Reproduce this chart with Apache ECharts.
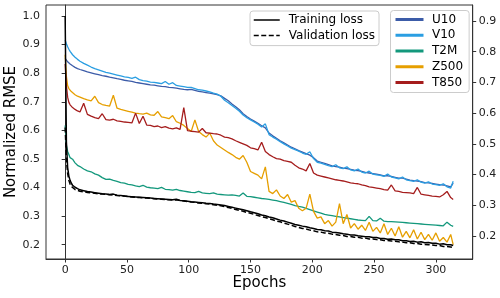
<!DOCTYPE html>
<html>
<head>
<meta charset="utf-8">
<script src="https://cdn.jsdelivr.net/npm/echarts@6/dist/echarts.min.js"></script>
<style>
html,body{margin:0;padding:0;background:#fff;}
#c{width:500px;height:298px;}
</style>
</head>
<body>
<div id="c"></div>
<script>
// ---- data ----
const epochs = [0,1,2,3,4,5,6,8,10,
12,15,18,21,24,27,30,33,36,39,
42,45,48,51,54,57,60,63,66,69,
72,75,78,81,84,87,90,93,96,99,
102,105,108,111,114,117,120,123,126,129,
132,135,138,141,144,147,150,153,156,159,
162,165,168,171,174,177,180,183,186,189,
192,195,198,201,204,207,210,213,216,219,
222,225,228,231,234,237,240,243,246,249,
252,255,258,261,264,267,270,273,276,279,
282,285,288,291,294,297,300,303,306,309,
312,314];

const trainingLoss = [1.0,0.56,0.47,0.44,0.425,0.415,0.408,0.401,0.396,
0.392,0.389,0.386,0.384,0.382,0.380,0.378,0.377,0.376,0.377,
0.373,0.372,0.370,0.369,0.368,0.367,0.366,0.365,0.364,0.363,
0.362,0.361,0.360,0.359,0.358,0.357,0.359,0.355,0.354,0.352,
0.350,0.349,0.348,0.347,0.345,0.344,0.342,0.341,0.339,0.337,
0.334,0.331,0.328,0.325,0.322,0.319,0.315,0.312,0.308,0.304,
0.301,0.297,0.294,0.290,0.286,0.283,0.279,0.275,0.271,0.268,
0.265,0.263,0.259,0.257,0.253,0.252,0.249,0.248,0.244,0.243,
0.241,0.238,0.237,0.234,0.234,0.231,0.230,0.228,0.228,0.225,
0.225,0.222,0.222,0.219,0.220,0.217,0.217,0.214,0.214,0.211,
0.212,0.209,0.210,0.207,0.208,0.205,0.205,0.202,0.203,0.200,
0.200,0.197];

const validationLoss = [0.61,0.50,0.45,0.425,0.412,0.404,0.398,0.393,0.390,
0.387,0.385,0.383,0.381,0.380,0.378,0.377,0.376,0.375,0.374,
0.372,0.371,0.370,0.368,0.367,0.366,0.365,0.364,0.363,0.362,
0.361,0.360,0.359,0.358,0.357,0.356,0.357,0.354,0.353,0.351,
0.349,0.348,0.346,0.345,0.343,0.342,0.340,0.338,0.336,0.333,
0.330,0.327,0.323,0.320,0.317,0.313,0.310,0.306,0.302,0.298,
0.295,0.291,0.287,0.283,0.280,0.276,0.272,0.268,0.264,0.260,
0.257,0.255,0.251,0.249,0.245,0.244,0.241,0.240,0.237,0.236,
0.233,0.232,0.229,0.229,0.226,0.226,0.223,0.223,0.220,0.220,
0.218,0.217,0.215,0.215,0.213,0.212,0.210,0.209,0.207,0.207,
0.204,0.204,0.202,0.201,0.200,0.199,0.197,0.197,0.194,0.194,
0.192,0.190];

const u10 = [0.778,0.772,0.767,0.763,0.760,0.757,0.754,0.749,0.745,
0.742,0.738,0.734,0.731,0.728,0.725,0.722,0.720,0.717,0.715,
0.712,0.710,0.707,0.705,0.703,0.700,0.698,0.696,0.694,0.692,
0.691,0.689,0.687,0.686,0.684,0.683,0.681,0.679,0.677,0.676,
0.677,0.674,0.671,0.669,0.667,0.665,0.663,0.660,0.656,0.648,
0.640,0.630,0.621,0.611,0.598,0.589,0.581,0.574,0.567,0.559,
0.552,0.535,0.526,0.518,0.510,0.503,0.496,0.489,0.484,0.478,
0.473,0.468,0.463,0.455,0.444,0.440,0.436,0.432,0.428,0.426,
0.424,0.421,0.419,0.417,0.414,0.413,0.410,0.407,0.405,0.403,
0.401,0.399,0.396,0.396,0.394,0.391,0.388,0.388,0.385,0.382,
0.380,0.379,0.377,0.374,0.373,0.371,0.369,0.367,0.366,0.363,
0.360,0.372];

const v10 = [0.838,0.826,0.816,0.808,0.801,0.795,0.790,0.782,0.775,
0.769,0.762,0.756,0.750,0.745,0.741,0.737,0.733,0.730,0.727,
0.724,0.721,0.718,0.716,0.713,0.717,0.709,0.706,0.704,0.701,
0.700,0.698,0.696,0.703,0.694,0.699,0.690,0.688,0.686,0.684,
0.684,0.680,0.676,0.675,0.672,0.669,0.665,0.662,0.655,0.642,
0.634,0.625,0.616,0.606,0.594,0.585,0.578,0.571,0.564,0.555,
0.565,0.530,0.522,0.515,0.507,0.500,0.493,0.486,0.481,0.476,
0.470,0.466,0.474,0.452,0.440,0.437,0.433,0.429,0.426,0.432,
0.422,0.419,0.425,0.415,0.412,0.418,0.408,0.405,0.411,0.401,
0.399,0.397,0.394,0.402,0.392,0.389,0.386,0.392,0.383,0.380,
0.378,0.383,0.375,0.372,0.376,0.369,0.367,0.365,0.370,0.360,
0.356,0.378];

const t2m = [0.560,0.495,0.475,0.465,0.455,0.458,0.450,0.438,0.430,
0.426,0.418,0.412,0.409,0.402,0.398,0.390,0.384,0.385,0.381,
0.378,0.374,0.372,0.368,0.366,0.363,0.361,0.365,0.359,0.357,
0.356,0.354,0.358,0.352,0.351,0.349,0.352,0.348,0.346,0.344,
0.342,0.341,0.345,0.340,0.339,0.338,0.340,0.336,0.335,0.334,
0.333,0.334,0.332,0.330,0.340,0.329,0.328,0.326,0.324,0.322,
0.321,0.319,0.317,0.315,0.312,0.309,0.306,0.303,0.299,0.296,
0.294,0.290,0.286,0.282,0.278,0.274,0.270,0.268,0.266,0.264,
0.262,0.260,0.258,0.256,0.254,0.252,0.251,0.250,0.264,0.250,
0.249,0.258,0.248,0.247,0.247,0.246,0.245,0.244,0.243,0.242,
0.241,0.240,0.239,0.238,0.237,0.236,0.235,0.234,0.233,0.245,
0.235,0.231];

const z500 = [0.790,0.720,0.690,0.680,0.675,0.670,0.666,0.660,0.655,
0.652,0.647,0.643,0.640,0.655,0.634,0.628,0.625,0.623,0.658,
0.616,0.612,0.609,0.606,0.603,0.600,0.598,0.597,0.600,0.594,
0.593,0.605,0.588,0.585,0.582,0.592,0.572,0.567,0.560,0.550,
0.540,0.578,0.540,0.530,0.522,0.535,0.510,0.496,0.488,0.480,
0.472,0.465,0.456,0.450,0.462,0.440,0.410,0.404,0.398,0.386,
0.425,0.345,0.338,0.350,0.330,0.322,0.335,0.310,0.315,0.290,
0.282,0.290,0.336,0.280,0.258,0.262,0.240,0.250,0.232,0.245,
0.305,0.240,0.270,0.226,0.240,0.222,0.235,0.218,0.245,0.215,
0.228,0.210,0.240,0.205,0.225,0.200,0.230,0.196,0.215,0.194,
0.220,0.190,0.212,0.188,0.205,0.186,0.210,0.183,0.195,0.180,
0.205,0.172];

const t850 = [0.760,0.690,0.652,0.635,0.627,0.622,0.618,0.612,0.607,
0.604,0.632,0.596,0.590,0.585,0.582,0.598,0.579,0.577,0.580,
0.575,0.573,0.571,0.570,0.568,0.600,0.566,0.590,0.561,0.560,
0.556,0.558,0.553,0.556,0.551,0.549,0.552,0.547,0.618,0.543,
0.541,0.540,0.538,0.550,0.536,0.535,0.533,0.532,0.528,0.522,
0.520,0.516,0.510,0.505,0.500,0.495,0.487,0.484,0.480,0.505,
0.475,0.465,0.458,0.452,0.450,0.445,0.443,0.440,0.430,0.422,
0.418,0.412,0.436,0.405,0.398,0.395,0.392,0.389,0.386,0.383,
0.381,0.379,0.376,0.373,0.371,0.370,0.366,0.364,0.360,0.358,
0.356,0.354,0.351,0.349,0.366,0.347,0.345,0.342,0.341,0.340,
0.338,0.358,0.336,0.334,0.332,0.330,0.329,0.327,0.334,0.345,
0.325,0.319];

const xTicks = [0,50,100,150,200,250,300];
const yLeftTicks = [0.2,0.3,0.4,0.5,0.6,0.7,0.8,0.9,1.0];
const yRightTicks = [0.2,0.3,0.4,0.5,0.6,0.7,0.8,0.9];

const lossNames = ['Training loss','Validation loss'];
const varNames = ['U10','V10','T2M','Z500','T850'];
const varData = [u10, v10, t2m, z500, t850];
const varColors = ['#3c5ca8','#2a9ee2','#13987c','#e69f00','#a51d1d'];

// ---- chart ----
const pair = arr => epochs.map((e,i)=>[e, arr[i]]);
const FONT = 'DejaVu Sans';
const axisCommon = {
  axisLine:{show:true, lineStyle:{color:'#333', width:1}},
  axisTick:{show:true, inside:false, length:3.5, lineStyle:{color:'#333', width:1}},
  splitLine:{show:false},
};
const hiddenSymbol = {color:'rgba(0,0,0,0)', borderColor:'rgba(0,0,0,0)', borderWidth:0, opacity:0};

const series = [
  {name:lossNames[0], type:'line', xAxisIndex:0, yAxisIndex:0, data:pair(trainingLoss),
   symbol:'none', lineStyle:{color:'#000', width:1.5}, itemStyle:{color:'#000'}, z:3},
  {name:lossNames[1], type:'line', xAxisIndex:0, yAxisIndex:0, data:pair(validationLoss),
   symbol:'none', lineStyle:{color:'#000', width:1.5, type:[5,2.5]}, itemStyle:{color:'#000'}, z:3},
];
varNames.forEach((n,i)=>{
  series.push({name:n, type:'line', xAxisIndex:0, yAxisIndex:1, data:pair(varData[i]),
    symbol:'none', lineStyle:{color:varColors[i], width:1.3}, itemStyle:{color:varColors[i]}, z:2});
});

const chart = echarts.init(document.getElementById('c'), null, {renderer:'canvas'});
chart.setOption({
  animation:false,
  backgroundColor:'#fff',
  textStyle:{fontFamily:FONT},
  grid:{left:46, right:27.3, top:5, bottom:39, show:true, borderColor:'#333', borderWidth:1,
        containLabel:false, outerBoundsMode:'none'},
  legend:[
    {data:lossNames, orient:'vertical', left:250, top:11, itemWidth:26, itemHeight:14, itemGap:3.6,
     padding:[3,4,4,3], borderColor:'#cccccc', borderWidth:1, borderRadius:3,
     backgroundColor:'rgba(255,255,255,0.8)', selectedMode:false,
     textStyle:{fontSize:12, color:'#000', fontFamily:FONT, padding:[0,0,0,4]},
     itemStyle:hiddenSymbol, lineStyle:{width:1.5}},
    {data:varNames, orient:'vertical', left:390.5, top:10.5, itemWidth:28, itemHeight:14, itemGap:3.75,
     padding:[3,6,4,3.5], borderColor:'#cccccc', borderWidth:1, borderRadius:3,
     backgroundColor:'rgba(255,255,255,0.8)', selectedMode:false,
     textStyle:{fontSize:12, color:'#000', fontFamily:FONT, padding:[0,0,0,3.5]},
     itemStyle:hiddenSymbol, lineStyle:{width:3}}
  ],
  xAxis:[Object.assign({type:'value', min:-15.5, max:329.8, name:'Epochs', nameLocation:'middle', nameGap:17,
    nameMoveOverlap:false,
    nameTextStyle:{fontSize:15, color:'#000', fontFamily:FONT},
    axisLabel:{customValues:xTicks, fontSize:11, color:'#222', margin:6, fontFamily:FONT},
  }, axisCommon, {axisTick:Object.assign({}, axisCommon.axisTick, {customValues:xTicks})})],
  yAxis:[
    Object.assign({type:'value', position:'left', min:0.15, max:1.0385, name:'Normalized RMSE', nameLocation:'middle', nameGap:27,
      nameMoveOverlap:false,
      nameTextStyle:{fontSize:15, color:'#000', fontFamily:FONT},
      axisLabel:{customValues:yLeftTicks, fontSize:11, color:'#222', margin:6, fontFamily:FONT, formatter:v=>v.toFixed(1)},
    }, axisCommon, {axisTick:Object.assign({}, axisCommon.axisTick, {customValues:yLeftTicks})}),
    Object.assign({type:'value', position:'right', min:0.125, max:0.952,
      axisLabel:{customValues:yRightTicks, fontSize:11, color:'#222', margin:6, fontFamily:FONT, formatter:v=>v.toFixed(1)},
    }, axisCommon, {axisTick:Object.assign({}, axisCommon.axisTick, {customValues:yRightTicks})})
  ],
  series:series
});
</script>
</body>
</html>
